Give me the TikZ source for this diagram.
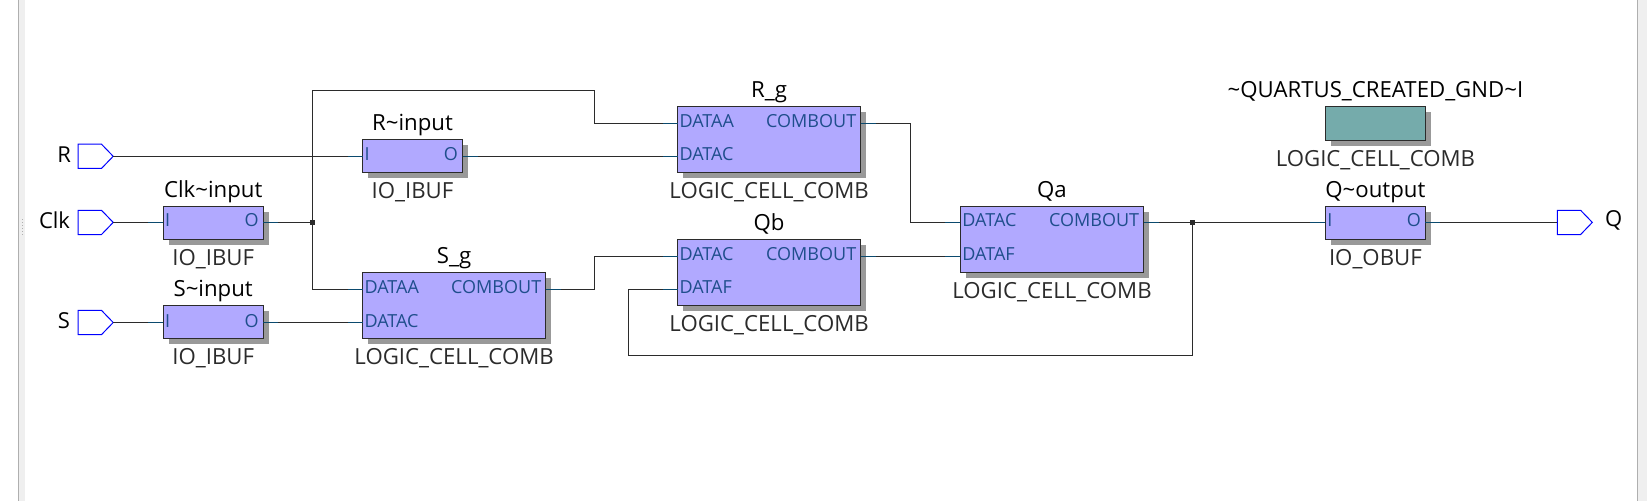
\documentclass[tikz,border=0pt]{standalone}
\usepackage{fontspec}
\setmainfont{Open Sans}
\usetikzlibrary{
positioning,
shadows,
shapes.symbols
}

\definecolor{cellfill}{HTML}{B1A9FF}
\definecolor{gndfill}{HTML}{75ABAB}
\definecolor{wiregrey}{HTML}{2B2B2B}
\definecolor{stubteal}{HTML}{0B4A6E}
\definecolor{porttext}{HTML}{1F4E8C}
\definecolor{shadowgrey}{HTML}{999999}
\definecolor{bandgrey}{HTML}{EFEFEF}
\definecolor{edgegrey}{HTML}{AFAFAF}

\tikzset{
  cell/.style={draw=wiregrey, line width=1pt, fill=cellfill, inner sep=0pt, outer sep=0pt, anchor=north west,
    drop shadow={shadow xshift=5.5pt, shadow yshift=-5.5pt, opacity=1, fill=shadowgrey}},
  bufcell/.style={cell, minimum width=100pt, minimum height=33.4pt},
  combcell/.style={cell, minimum width=183.2pt, minimum height=66.4pt},
  gndcell/.style={cell, fill=gndfill, minimum width=100pt, minimum height=34.4pt},
  porttag/.style={text=porttext, font=\fontsize{18}{20}\selectfont, inner ysep=0pt, outer sep=0pt,
    text height=13pt, text depth=4pt},
  portl/.style={porttag, anchor=west, inner xsep=2pt},
  portr/.style={porttag, anchor=east, inner xsep=4.5pt},
  title/.style={font=\fontsize{22.2}{24}\selectfont, text=black, inner sep=0pt, text height=15.5pt, text depth=5pt},
  kind/.style={font=\fontsize{22.2}{24}\selectfont, text=wiregrey, inner sep=0pt, text height=15.5pt, text depth=5pt},
  pinbox/.style={shape=signal, signal to=east, signal from=nowhere, signal pointer angle=92, draw=blue, line width=1pt,
    fill=white, minimum width=35pt, minimum height=24.3pt, inner sep=0pt, outer sep=0pt, anchor=west},
  pinname/.style={font=\fontsize{22}{24}\selectfont, text=black, inner sep=0pt, yshift=2pt},
  wire/.style={draw=wiregrey, line width=1pt},
  stub/.style={draw=stubteal, line width=1pt},
  joint/.style={fill=wiregrey, inner sep=0pt, minimum size=4.4pt}
}

\begin{document}
\begin{tikzpicture}[x=1pt, y=-1pt]

\useasboundingbox (0,0) rectangle (1647,501);

% Window edges
\fill[bandgrey] (18.5,0) rectangle (25,501);
\fill[edgegrey] (18,0) rectangle (19,501);
\fill[bandgrey] (1638,0) rectangle (1647,501);
\fill[edgegrey] (1637,0) rectangle (1638,501);
\foreach \y in {219.3,222.3,...,234.4}
{
\fill[edgegrey] (21.8,\y) rectangle ++(1,1);
}

% Pins
\node[pinbox] (Rpin) at (78.2,156.3) {};
\node[pinbox] (Clkpin) at (78.2,222.4) {};
\node[pinbox] (Spin) at (78.2,322.5) {};
\node[pinbox] (Qpin) at (1557.3,222.4) {};
\node[pinname, left=7pt of Rpin] (Rname) {R};
\node[pinname, left=8pt of Clkpin] (Clkname) {Clk};
\node[pinname, left=8pt of Spin] (Sname) {S};
\node[pinname, right=12.5pt of Qpin] (Qname) {Q};

% Cells
\node[bufcell] (Rbuf) at (362.5,139.3) {};
\node[bufcell] (Clkbuf) at (163.2,206.3) {};
\node[bufcell] (Sbuf) at (163.2,305.3) {};
\node[bufcell] (Qbuf) at (1325.4,206.3) {};
\node[combcell] (Sg) at (362.5,272.3) {};
\node[combcell] (Rg) at (677.5,106.3) {};
\node[combcell] (Qb) at (677.5,239.3) {};
\node[combcell] (Qa) at (960.4,206.3) {};
\node[gndcell] (Gnd) at (1325.4,106.3) {};

% Names above, kinds below
\node[title, above=4pt of Rbuf] (Rtitle) {R\textasciitilde input};
\node[title, above=4pt of Clkbuf] (Clktitle) {Clk\textasciitilde input};
\node[title, above=4pt of Sbuf] (Stitle) {S\textasciitilde input};
\node[title, above=4pt of Qbuf] (Qtitle) {Q\textasciitilde output};
\node[title, above=4pt of Sg] (Sgtitle) {S\_g};
\node[title, above=4pt of Rg] (Rgtitle) {R\_g};
\node[title, above=4pt of Qb] (Qbtitle) {Qb};
\node[title, above=4pt of Qa] (Qatitle) {Qa};
\node[title, above=4pt of Gnd] (Gndtitle) {\textasciitilde QUARTUS\_CREATED\_GND\textasciitilde I};
\node[kind, below=10pt of Rbuf] (Rkind) {IO\_IBUF};
\node[kind, below=10pt of Clkbuf] (Clkkind) {IO\_IBUF};
\node[kind, below=10pt of Sbuf] (Skind) {IO\_IBUF};
\node[kind, below=10pt of Qbuf] (Qkind) {IO\_OBUF};
\node[kind, below=10pt of Sg] (Sgkind) {LOGIC\_CELL\_COMB};
\node[kind, below=10pt of Rg] (Rgkind) {LOGIC\_CELL\_COMB};
\node[kind, below=10pt of Qb] (Qbkind) {LOGIC\_CELL\_COMB};
\node[kind, below=10pt of Qa] (Qakind) {LOGIC\_CELL\_COMB};
\node[kind, below=10pt of Gnd] (Gndkind) {LOGIC\_CELL\_COMB};

% Ports
\node[portl] (RbufI) at (362.5,156.3) {I};
\node[portr] (RbufO) at (462.5,156.3) {O};
\node[portl] (ClkbufI) at (163.2,222.4) {I};
\node[portr] (ClkbufO) at (263.2,222.4) {O};
\node[portl] (SbufI) at (163.2,322.5) {I};
\node[portr] (SbufO) at (263.2,322.5) {O};
\node[portl] (QbufI) at (1325.4,222.4) {I};
\node[portr] (QbufO) at (1425.4,222.4) {O};
\node[portl] (SgA) at (362.5,289.3) {DATAA};
\node[portl] (SgC) at (362.5,322.5) {DATAC};
\node[portr] (SgOut) at (545.7,289.3) {COMBOUT};
\node[portl] (RgA) at (677.5,123.3) {DATAA};
\node[portl] (RgC) at (677.5,156.3) {DATAC};
\node[portr] (RgOut) at (860.7,123.3) {COMBOUT};
\node[portl] (QbC) at (677.5,256.3) {DATAC};
\node[portl] (QbF) at (677.5,289.3) {DATAF};
\node[portr] (QbOut) at (860.7,256.3) {COMBOUT};
\node[portl] (QaC) at (960.4,222.4) {DATAC};
\node[portl] (QaF) at (960.4,256.3) {DATAF};
\node[portr] (QaOut) at (1143.6,222.4) {COMBOUT};

% Junctions and bends
\node[joint] (ClkJ) at (312.5,222.4) {};
\node[joint] (QJ) at (1192.3,222.4) {};
\coordinate (Rbend) at (594.6,90.3);
\coordinate (Sbend) at (594.6,256.3);
\coordinate (Rgbend) at (910.4,222.4);
\coordinate (Fback) at (628.2,355.3);

% Wires
\draw[wire] (Rpin.east) -- (RbufI.west);
\draw[wire] (Clkpin.east) -- (ClkbufI.west);
\draw[wire] (Spin.east) -- (SbufI.west);
\draw[wire] (RbufO.east) -- (RgC.west);
\draw[wire] (SbufO.east) -- (SgC.west);
\draw[wire] (ClkbufO.east) -- (ClkJ.center);
\draw[wire] (ClkJ.center) |- (Rbend) |- (RgA.west);
\draw[wire] (ClkJ.center) |- (SgA.west);
\draw[wire] (SgOut.east) -| (Sbend) -- (QbC.west);
\draw[wire] (RgOut.east) -| (Rgbend) -- (QaC.west);
\draw[wire] (QbOut.east) -- (QaF.west);
\draw[wire] (QaOut.east) -- (QbufI.west);
\draw[wire] (QJ.center) |- (Fback) |- (QbF.west);
\draw[wire] (QbufO.east) -- (Qpin.west);

% Teal ends at the ports
\foreach \p in {RbufI,ClkbufI,SbufI,QbufI,SgA,SgC,RgA,RgC,QbC,QbF,QaC,QaF}
{
\draw[stub] (\p.west) -- ++(-15,0);
}
\foreach \p in {RbufO,ClkbufO,SbufO,QbufO,SgOut,RgOut,QbOut,QaOut}
{
\draw[stub] (\p.east) -- ++(15,0);
}

\end{tikzpicture}
\end{document}
